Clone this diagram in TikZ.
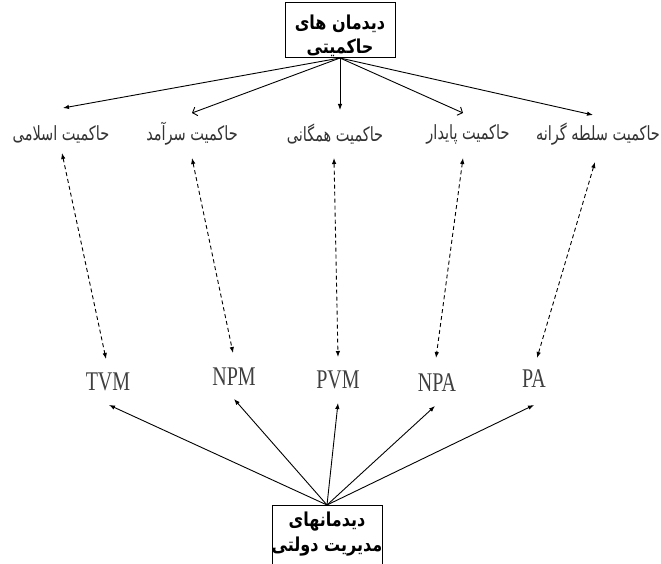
\documentclass[tikz,border=0pt]{standalone}
\usepackage{fontspec}
\setmainfont{Liberation Serif}
\newfontfamily\fa[Script=Arabic]{DejaVu Sans}
\TeXXeTstate=1
\usetikzlibrary{arrows.meta}
\begin{document}
\begin{tikzpicture}[x=1pt,y=-1pt,
  box/.style={draw, line width=1pt, minimum width=110pt, minimum height=55pt, inner sep=0pt, outer sep=0pt},
  boxtext/.style={font=\fa\bfseries\fontsize{16}{18}\selectfont, inner sep=0pt},
  falabel/.style={font=\fa\fontsize{14.5}{16}\selectfont, text=black!80, inner sep=0pt},
  lat/.style={font=\fontsize{20}{22}\selectfont, text=black!75, inner sep=0pt},
  solidarrow/.style={-{Latex[length=6pt,width=4.5pt]}, line width=0.9pt},
  openarrow/.style={-{Straight Barb[length=4pt,width=9pt]}, line width=0.9pt},
  dasharrow/.style={{Latex[length=6pt,width=4.5pt]}-{Latex[length=6pt,width=4.5pt]}, dash pattern=on 4pt off 3pt, line width=0.9pt}]
\useasboundingbox (0,0) rectangle (661,564);
\fill[white] (0,0) rectangle (661,564);
\clip (0,0) rectangle (661,564);

% boxes
\node[box] (tb) at (340,30.5) {};
\node[boxtext] (tb1) at (340,24) {\scalebox{1}[1.2]{\beginR دیدمان های\endR}};
\node[boxtext] (tb2) at (340,48) {\scalebox{1}[1.2]{\beginR حاکمیتی\endR}};

\node[box, minimum height=70pt] (bb) at (327,540) {};
\node[boxtext] (bb1) at (327,522) {\scalebox{1}[1.2]{\beginR دیدمانهای\endR}};
\node[boxtext] (bb2) at (327,547) {\scalebox{1}[1.2]{\beginR مدیریت دولتی\endR}};

% Persian labels
\node[falabel] (L1) at (61,134) {\scalebox{1}[1.35]{\beginR حاکمیت اسلامی\endR}};
\node[falabel] (L2) at (192,134) {\scalebox{1}[1.35]{\beginR حاکمیت سرآمد\endR}};
\node[falabel] (L3) at (335,134) {\scalebox{1}[1.35]{\beginR حاکمیت همگانی\endR}};
\node[falabel] (L4) at (468,134) {\scalebox{1}[1.35]{\beginR حاکمیت پایدار\endR}};
\node[falabel] (L5) at (598,134) {\scalebox{1}[1.35]{\beginR حاکمیت سلطه گرانه\endR}};

% Latin labels
\node[lat] (M1) at (108,382) {\scalebox{1}[1.35]{TVM}};
\node[lat] (M2) at (234,377) {\scalebox{1}[1.35]{NPM}};
\node[lat] (M3) at (338,380) {\scalebox{1}[1.35]{PVM}};
\node[lat] (M4) at (437,383) {\scalebox{1}[1.35]{NPA}};
\node[lat] (M5) at (534,379) {\scalebox{1}[1.35]{PA}};

% arrow end points
\coordinate (t1) at (63,108);
\coordinate (t2) at (192,113);
\coordinate (t3) at (340,110);
\coordinate (t4) at (463,113);
\coordinate (t5) at (593,115);

\coordinate (d1a) at (62,153);  \coordinate (d1b) at (106,359);
\coordinate (d2a) at (192,158); \coordinate (d2b) at (233,353);
\coordinate (d3a) at (334,158); \coordinate (d3b) at (338,357);
\coordinate (d4a) at (463,158); \coordinate (d4b) at (436,358);
\coordinate (d5a) at (595,162); \coordinate (d5b) at (537,358);

\coordinate (b1) at (109,405);
\coordinate (b2) at (234,399);
\coordinate (b3) at (338,403);
\coordinate (b4) at (435,406);
\coordinate (b5) at (534,405);

% top arrows
\draw[solidarrow] (tb.south) -- (t1);
\draw[openarrow]  (tb.south) -- (t2);
\draw[solidarrow] (tb.south) -- (t3);
\draw[openarrow]  (tb.south) -- (t4);
\draw[solidarrow] (tb.south) -- (t5);

% dashed double arrows
\draw[dasharrow] (d1a) -- (d1b);
\draw[dasharrow] (d2a) -- (d2b);
\draw[dasharrow] (d3a) -- (d3b);
\draw[dasharrow] (d4a) -- (d4b);
\draw[dasharrow] (d5a) -- (d5b);

% bottom arrows
\draw[solidarrow] (bb.north) -- (b1);
\draw[solidarrow] (bb.north) -- (b2);
\draw[solidarrow] (bb.north) -- (b3);
\draw[solidarrow] (bb.north) -- (b4);
\draw[solidarrow] (bb.north) -- (b5);
\end{tikzpicture}
\end{document}
